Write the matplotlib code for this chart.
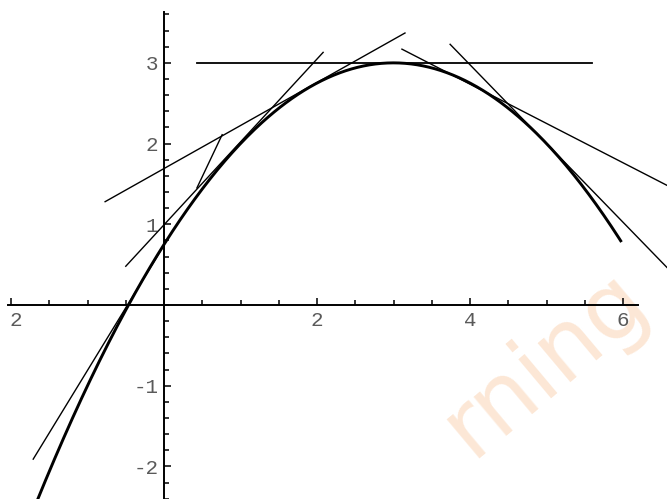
import numpy as np
import matplotlib.pyplot as plt
from matplotlib.ticker import FixedLocator
import matplotlib.transforms as mtransforms

# parabola y = top - k*(x - xv)^2
VERTEX_X = 3.0
VERTEX_Y = 3.0
CURVATURE = 0.25
CURVE_X_START = -1.80
CURVE_X_END = 5.98

# straight line pieces (data coords)
seg_x0 = [0.43, -0.77, -0.50, 0.43, -1.71, 3.11, 3.74]
seg_y0 = [3.00, 1.28, 0.48, 1.45, -1.91, 3.17, 3.23]
seg_x1 = [5.60, 3.15, 2.08, 0.76, 0.00, 6.60, 6.60]
seg_y1 = [3.00, 3.37, 3.13, 2.11, 0.74, 1.47, 0.44]
seg_lw = [1.3, 1.0, 1.0, 1.0, 1.0, 1.0, 1.0]

x_ticks = [-2, 2, 4, 6]
x_labels = ['2', '2', '4', '6']   # the minus of -2 is cut off in the original
y_ticks = [-2, -1, 1, 2, 3]
y_labels = ['-2', '-1', '1', '2', '3']

fig = plt.figure(figsize=(6.67, 4.99), dpi=100)
ax = fig.add_axes([0, 0, 1, 1])
ax.set_xlim(-2.144, 6.575)
ax.set_ylim(-2.404, 3.779)

# faint watermark, only its tail shows
ax.text(6.38, -0.02, 'rning', rotation=40, rotation_mode='anchor',
        ha='right', va='baseline', fontsize=66,
        color='#f5a35f', alpha=0.26, family='DejaVu Sans', zorder=0)

xs = np.linspace(CURVE_X_START, CURVE_X_END, 400)
ys = VERTEX_Y - CURVATURE * (xs - VERTEX_X) ** 2
ax.plot(xs, ys, color='black', lw=2.1, solid_capstyle='butt', zorder=3)

for i in range(len(seg_x0)):
    ax.plot([seg_x0[i], seg_x1[i]], [seg_y0[i], seg_y1[i]],
            color='black', lw=seg_lw[i], zorder=3)

for s in ['top', 'right']:
    ax.spines[s].set_visible(False)
ax.spines['left'].set_position(('data', 0))
ax.spines['bottom'].set_position(('data', 0))
ax.spines['left'].set_bounds(-2.404, 3.63)
ax.spines['bottom'].set_bounds(-2.04, 6.2)
for s in ['left', 'bottom']:
    ax.spines[s].set_linewidth(1.4)
    ax.spines[s].set_zorder(4)

ax.xaxis.set_major_locator(FixedLocator(x_ticks))
ax.set_xticklabels(x_labels)
ax.xaxis.set_minor_locator(FixedLocator(np.arange(-2, 6.01, 0.5)))
ax.yaxis.set_major_locator(FixedLocator(y_ticks))
ax.set_yticklabels(y_labels)
ax.yaxis.set_minor_locator(FixedLocator(np.arange(-2.4, 3.61, 0.2)))

ax.tick_params(which='both', direction='in', width=1.1, colors='black',
               labelcolor='#5a5a5a', labelsize=15)
ax.tick_params(which='major', length=5, pad=4)
ax.tick_params(which='minor', length=3.5)
for lab in ax.get_xticklabels() + ax.get_yticklabels():
    lab.set_family('Liberation Mono')

# nudge the leftmost x label right, as in the original
first = ax.get_xticklabels()[0]
first.set_transform(first.get_transform() +
                    mtransforms.ScaledTranslation(5 / 100, 0, fig.dpi_scale_trans))

fig.savefig('out.png', dpi=100)
